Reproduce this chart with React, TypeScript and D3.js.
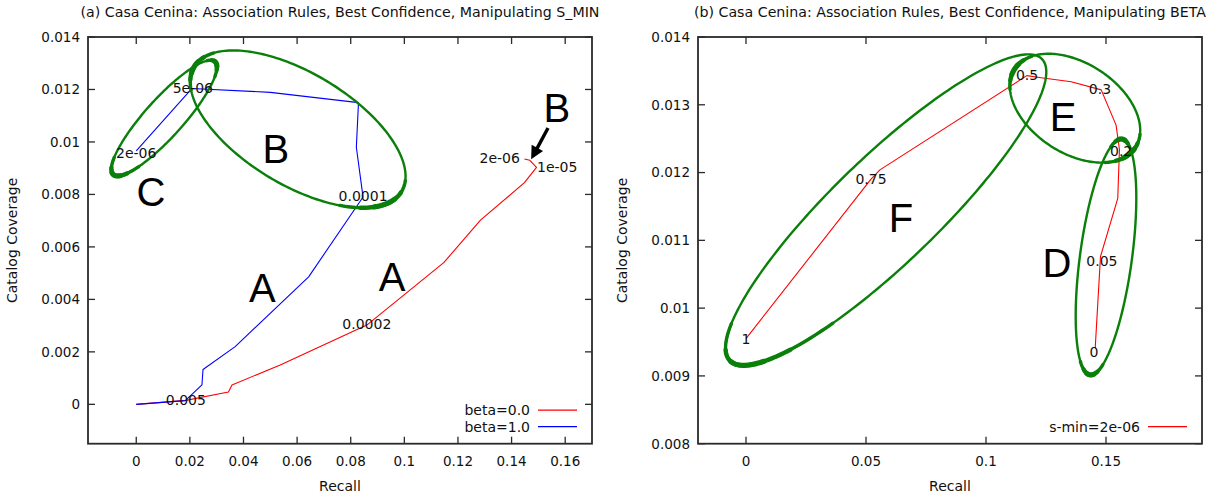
import React, { useEffect } from "react";
import * as d3 from "d3";

const FONT = "'DejaVu Sans', Verdana, sans-serif";
const BIG_FONT = "'Liberation Sans', Arial, Helvetica, sans-serif";

// ---------- texts ----------
const titleA = "(a) Casa Cenina: Association Rules, Best Confidence, Manipulating S_MIN";
const titleB = "(b) Casa Cenina: Association Rules, Best Confidence, Manipulating BETA";
const xAxisLabel = "Recall";
const yAxisLabel = "Catalog Coverage";

// ---------- panel (a) axes ----------
const aXTicks = [0, 0.02, 0.04, 0.06, 0.08, 0.1, 0.12, 0.14, 0.16];
const aXTickLabels = ["0", "0.02", "0.04", "0.06", "0.08", "0.1", "0.12", "0.14", "0.16"];
const aYTicks = [0, 0.002, 0.004, 0.006, 0.008, 0.01, 0.012, 0.014];
const aYTickLabels = ["0", "0.002", "0.004", "0.006", "0.008", "0.01", "0.012", "0.014"];
const aXDomain = [-0.018, 0.17];
const aYDomain = [-0.0015, 0.014];

// ---------- panel (a) series ----------
const aSeriesNames = ["beta=0.0", "beta=1.0"];
const aRecallBeta0 = [0, 0.0185, 0.0344, 0.0357, 0.0537, 0.086, 0.1147, 0.1284, 0.1448, 0.1493, 0.1468, 0.1448];
const aCoverageBeta0 = [0, 0.00015, 0.00047, 0.00074, 0.0015, 0.00302, 0.0054, 0.00702, 0.00845, 0.00903, 0.0093, 0.00935];
const aRecallBeta1 = [0, 0.0183, 0.0245, 0.0249, 0.0369, 0.0643, 0.0846, 0.0821, 0.0829, 0.05, 0.0208, 0.0];
const aCoverageBeta1 = [0, 0.00014, 0.00074, 0.00133, 0.0022, 0.00486, 0.0079, 0.0098, 0.0115, 0.01189, 0.01204, 0.00966];

// ---------- panel (a) point labels ----------
const aLabelTexts = ["2e-06", "5e-06", "0.0001", "0.005", "0.0002", "2e-06", "1e-05"];
const aLabelX = [0.0, 0.0211, 0.0846, 0.0185, 0.086, 0.1431, 0.1495];
const aLabelY = [0.00958, 0.01205, 0.00794, 0.00016, 0.00306, 0.00939, 0.00905];
const aLabelAnchor = ["middle", "middle", "middle", "middle", "middle", "end", "start"];

// ---------- panel (a) annotations ----------
const aLetters = ["A", "A", "B", "B", "C"];
const aLetterX = [0.047, 0.0954, 0.0521, 0.1569, 0.0055];
const aLetterY = [0.00444, 0.00485, 0.00973, 0.0113, 0.0081];
const aEllipseX = [0.0104, 0.0603];
const aEllipseY = [0.01091, 0.01049];
const aArrowFrom = [0.1536, 0.01053];
const aArrowTo = [0.1473, 0.00934];

// ---------- panel (b) axes ----------
const bXTicks = [0, 0.05, 0.1, 0.15];
const bXTickLabels = ["0", "0.05", "0.1", "0.15"];
const bYTicks = [0.008, 0.009, 0.01, 0.011, 0.012, 0.013, 0.014];
const bYTickLabels = ["0.008", "0.009", "0.01", "0.011", "0.012", "0.013", "0.014"];
const bXDomain = [-0.02, 0.19];
const bYDomain = [0.008, 0.014];

// ---------- panel (b) series ----------
const bSeriesNames = ["s-min=2e-06"];
const bRecall = [0, 0.052, 0.0558, 0.117, 0.123, 0.1355, 0.148, 0.1542, 0.1556, 0.1549, 0.1477, 0.1455];
const bCoverage = [0.00955, 0.0119, 0.01204, 0.01343, 0.0134, 0.01334, 0.01322, 0.0127, 0.01234, 0.01162, 0.01076, 0.00941];

const bLabelTexts = ["1", "0.75", "0.5", "0.3", "0.2", "0.05", "0"];
const bLabelX = [0, 0.0521, 0.1171, 0.1475, 0.1563, 0.1483, 0.145];
const bLabelY = [0.00955, 0.0119, 0.01344, 0.01323, 0.01232, 0.01069, 0.00936];

const bLetters = ["F", "E", "D"];
const bLetterX = [0.0646, 0.1321, 0.1296];
const bLetterY = [0.01133, 0.01282, 0.01067];
const bEllipseX = [0.0583, 0.1371, 0.15];
const bEllipseY = [0.01145, 0.01295, 0.010755];

// ---------- styles (pixel geometry) ----------
const frameA = { left: 88, right: 592, top: 37, bottom: 443.7 };
const frameB = { left: 698, right: 1202, top: 37, bottom: 443.7 };
const RED = "#ff0000";
const BLUE = "#0000ff";
const GREEN = "#0a800a";
const AXIS = "#2a2a2a";
const TITLE_SIZE = 14.2;
const AXIS_LABEL_SIZE = 14;
const TICK_SIZE = 13.5;
const POINT_LABEL_SIZE = 14;
const LEGEND_SIZE = 14;

type EllStyle = { rx: number; ry: number; angle: number; thick: [number, number][] };
const aEllipseStyles: EllStyle[] = [
  { rx: 76, ry: 19, angle: -48, thick: [[Math.PI - 0.1, 0.7], [0.1, 0.45]] },
  { rx: 121, ry: 56, angle: 31, thick: [[Math.PI, 0.4], [0.35, 0.55]] },
];
const bEllipseStyles: EllStyle[] = [
  { rx: 217, ry: 53, angle: -44, thick: [[Math.PI - 0.25, 0.75]] },
  { rx: 72, ry: 45, angle: 33, thick: [[0.2, 0.5], [Math.PI, 0.45]] },
  { rx: 119, ry: 26, angle: -82.3, thick: [[0, 0.4], [Math.PI, 0.45]] },
];

function ellipsePoints(cx: number, cy: number, s: EllStyle, t0: number, t1: number, n: number) {
  const th = (s.angle * Math.PI) / 180;
  const ux = Math.cos(th), uy = Math.sin(th);
  const vx = -Math.sin(th), vy = Math.cos(th);
  const pts: [number, number][] = [];
  for (let i = 0; i <= n; i++) {
    const t = t0 + ((t1 - t0) * i) / n;
    const c = Math.cos(t), sn = Math.sin(t);
    pts.push([cx + s.rx * c * ux + s.ry * sn * vx, cy + s.rx * c * uy + s.ry * sn * vy]);
  }
  return pts;
}

const lineGen = d3.line<[number, number]>().x((d) => d[0]).y((d) => d[1]);

function Ellipse({ cx, cy, s }: { cx: number; cy: number; s: EllStyle }) {
  const full = lineGen(ellipsePoints(cx, cy, s, 0, Math.PI * 2, 240)) + "Z";
  const overlays: any[] = [];
  s.thick.forEach(([tc, h], i) => {
    [[1, 3.4], [0.6, 4.4], [0.3, 5.2]].forEach(([f, w], j) => {
      const d = lineGen(ellipsePoints(cx, cy, s, tc - h * f, tc + h * f, 40));
      overlays.push(
        <path key={`${i}-${j}`} d={d || ""} fill="none" stroke={GREEN} strokeWidth={w} strokeLinecap="round" />
      );
    });
  });
  return (
    <g>
      <path d={full} fill="none" stroke={GREEN} strokeWidth={2.4} />
      {overlays}
    </g>
  );
}

type Series = { name: string; xs: number[]; ys: number[]; color: string };

function Panel(props: {
  frame: { left: number; right: number; top: number; bottom: number };
  xDomain: number[];
  yDomain: number[];
  xTicks: number[];
  xTickLabels: string[];
  yTicks: number[];
  yTickLabels: string[];
  title: string;
  series: Series[];
  labelTexts: string[];
  labelX: number[];
  labelY: number[];
  labelAnchor?: string[];
  letters: string[];
  letterX: number[];
  letterY: number[];
  ellipseX: number[];
  ellipseY: number[];
  ellipseStyles: EllStyle[];
  arrow?: { from: number[]; to: number[] };
}) {
  const f = props.frame;
  const x = d3.scaleLinear().domain(props.xDomain).range([f.left, f.right]);
  const y = d3.scaleLinear().domain(props.yDomain).range([f.bottom, f.top]);
  const cxm = (f.left + f.right) / 2;
  const cym = (f.top + f.bottom) / 2;
  const tickLen = 7;

  const seriesPath = (s: Series) =>
    d3
      .line<number>()
      .x((d) => x(d))
      .y((_, i) => y(s.ys[i]))(s.xs) || "";

  let arrowEl: any = null;
  if (props.arrow) {
    const x1 = x(props.arrow.from[0]), y1 = y(props.arrow.from[1]);
    const x2 = x(props.arrow.to[0]), y2 = y(props.arrow.to[1]);
    const ang = Math.atan2(y2 - y1, x2 - x1);
    const hl = 13, hw = 6.5;
    const bx = x2 - hl * Math.cos(ang), by = y2 - hl * Math.sin(ang);
    const px = -Math.sin(ang), py = Math.cos(ang);
    arrowEl = (
      <g>
        <line x1={x1} y1={y1} x2={bx + 2 * Math.cos(ang)} y2={by + 2 * Math.sin(ang)} stroke="#000" strokeWidth={3.4} />
        <polygon
          points={`${x2},${y2} ${bx + hw * px},${by + hw * py} ${bx - hw * px},${by - hw * py}`}
          fill="#000"
        />
      </g>
    );
  }

  const nSeries = props.series.length;
  return (
    <g>
      <text x={cxm} y={17} textAnchor="middle" fontFamily={FONT} fontSize={TITLE_SIZE} fill="#111">
        {props.title}
      </text>
      {props.xTicks.map((t, i) => (
        <g key={"xt" + i}>
          <line x1={x(t)} x2={x(t)} y1={f.bottom} y2={f.bottom - tickLen} stroke={AXIS} strokeWidth={1.3} />
          <line x1={x(t)} x2={x(t)} y1={f.top} y2={f.top + tickLen} stroke={AXIS} strokeWidth={1.3} />
          <text x={x(t)} y={f.bottom + 22} textAnchor="middle" fontFamily={FONT} fontSize={TICK_SIZE} fill="#111">
            {props.xTickLabels[i]}
          </text>
        </g>
      ))}
      {props.yTicks.map((t, i) => (
        <g key={"yt" + i}>
          <line x1={f.left} x2={f.left + tickLen} y1={y(t)} y2={y(t)} stroke={AXIS} strokeWidth={1.3} />
          <line x1={f.right} x2={f.right - tickLen} y1={y(t)} y2={y(t)} stroke={AXIS} strokeWidth={1.3} />
          <text
            x={f.left - 8}
            y={y(t)}
            dy="0.36em"
            textAnchor="end"
            fontFamily={FONT}
            fontSize={TICK_SIZE}
            fill="#111"
          >
            {props.yTickLabels[i]}
          </text>
        </g>
      ))}
      <rect
        x={f.left}
        y={f.top}
        width={f.right - f.left}
        height={f.bottom - f.top}
        fill="none"
        stroke={AXIS}
        strokeWidth={1.8}
      />
      <text x={cxm} y={f.bottom + 47} textAnchor="middle" fontFamily={FONT} fontSize={AXIS_LABEL_SIZE} fill="#111">
        {xAxisLabel}
      </text>
      <text
        transform={`translate(${f.left - 71},${cym}) rotate(-90)`}
        textAnchor="middle"
        fontFamily={FONT}
        fontSize={AXIS_LABEL_SIZE}
        fill="#111"
      >
        {yAxisLabel}
      </text>
      {props.series.map((s, i) => (
        <path key={"s" + i} d={seriesPath(s)} fill="none" stroke={s.color} strokeWidth={1.1} strokeLinejoin="round" />
      ))}
      {props.ellipseX.map((ex, i) => (
        <Ellipse key={"e" + i} cx={x(ex)} cy={y(props.ellipseY[i])} s={props.ellipseStyles[i]} />
      ))}
      {props.labelTexts.map((t, i) => (
        <text
          key={"l" + i}
          x={x(props.labelX[i])}
          y={y(props.labelY[i])}
          dy="0.36em"
          textAnchor={(props.labelAnchor ? props.labelAnchor[i] : "middle") as any}
          fontFamily={FONT}
          fontSize={POINT_LABEL_SIZE}
          fill="#111"
        >
          {t}
        </text>
      ))}
      {props.letters.map((t, i) => (
        <text
          key={"L" + i}
          x={x(props.letterX[i])}
          y={y(props.letterY[i])}
          dy="0.36em"
          textAnchor="middle"
          fontFamily={BIG_FONT}
          fontSize={40}
          fill="#000"
        >
          {t}
        </text>
      ))}
      {arrowEl}
      {props.series.map((s, i) => {
        const ly = f.bottom - 17 - (nSeries - 1 - i) * 16.5;
        return (
          <g key={"lg" + i}>
            <text x={f.right - 62} y={ly} dy="0.36em" textAnchor="end" fontFamily={FONT} fontSize={LEGEND_SIZE} fill="#111">
              {s.name}
            </text>
            <line x1={f.right - 54} x2={f.right - 15} y1={ly} y2={ly} stroke={s.color} strokeWidth={1.2} />
          </g>
        );
      })}
    </g>
  );
}

export default function App() {
  useEffect(() => {
    document.body.style.margin = "0";
    document.body.style.overflow = "hidden";
  }, []);
  const aSeries: Series[] = [
    { name: aSeriesNames[0], xs: aRecallBeta0, ys: aCoverageBeta0, color: RED },
    { name: aSeriesNames[1], xs: aRecallBeta1, ys: aCoverageBeta1, color: BLUE },
  ];
  const bSeries: Series[] = [{ name: bSeriesNames[0], xs: bRecall, ys: bCoverage, color: RED }];
  return (
    <svg
      width={1219}
      height={497}
      style={{ position: "absolute", left: 0, top: 0, background: "#fff", display: "block" }}
    >
      <rect x={0} y={0} width={1219} height={497} fill="#fff" />
      <Panel
        frame={frameA}
        xDomain={aXDomain}
        yDomain={aYDomain}
        xTicks={aXTicks}
        xTickLabels={aXTickLabels}
        yTicks={aYTicks}
        yTickLabels={aYTickLabels}
        title={titleA}
        series={aSeries}
        labelTexts={aLabelTexts}
        labelX={aLabelX}
        labelY={aLabelY}
        labelAnchor={aLabelAnchor}
        letters={aLetters}
        letterX={aLetterX}
        letterY={aLetterY}
        ellipseX={aEllipseX}
        ellipseY={aEllipseY}
        ellipseStyles={aEllipseStyles}
        arrow={{ from: aArrowFrom, to: aArrowTo }}
      />
      <Panel
        frame={frameB}
        xDomain={bXDomain}
        yDomain={bYDomain}
        xTicks={bXTicks}
        xTickLabels={bXTickLabels}
        yTicks={bYTicks}
        yTickLabels={bYTickLabels}
        title={titleB}
        series={bSeries}
        labelTexts={bLabelTexts}
        labelX={bLabelX}
        labelY={bLabelY}
        letters={bLetters}
        letterX={bLetterX}
        letterY={bLetterY}
        ellipseX={bEllipseX}
        ellipseY={bEllipseY}
        ellipseStyles={bEllipseStyles}
      />
    </svg>
  );
}
